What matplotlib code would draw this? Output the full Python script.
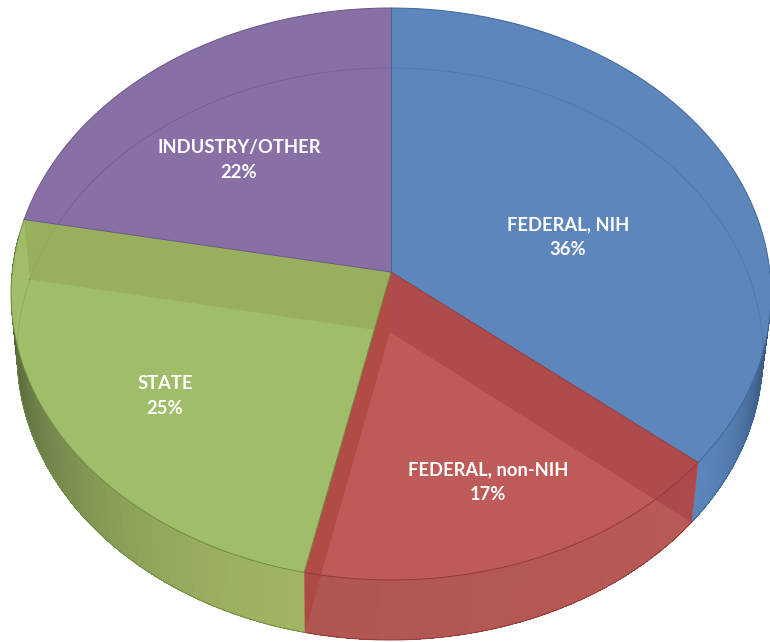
import matplotlib
matplotlib.use('Agg')
import matplotlib.pyplot as plt
from matplotlib.colors import to_rgb
from matplotlib.patches import Polygon
import numpy as np

labels = ['FEDERAL, NIH', 'FEDERAL, non-NIH', 'STATE', 'INDUSTRY/OTHER']
shares = [36, 17.4, 24.6, 22]

face_colors = ['#5C86BC', '#BE5B58', '#A0BE69', '#8870A6']
edge_colors = ['#3F6796', '#943A3A', '#6F8C42', '#6A5587']
side_light = ['#5A86BC', '#B95A57', '#A0B463', '#8870A6']
side_dark = ['#1A2C44', '#B05650', '#36452A', '#8870A6']

label_x = [568, 488, 165, 239]
label_y = [237, 482, 396, 160]

# pie disc in picture pixels, top and bottom face
top = dict(cx=391, cy=294, rx=380, ry=286)
bottom = dict(cx=390, cy=354, rx=373, ry=286)
tilt = 0.077


def project(disc, frac):
    # frac is the share of the full circle, clockwise from 12 o'clock
    a = 2 * np.pi * np.asarray(frac, dtype=float)
    x, y = np.sin(a), -np.cos(a)
    d = 1 - tilt * y
    xp = x * np.sqrt(1 - tilt ** 2) / d
    yp = (y - tilt) / d
    return np.column_stack([disc['cx'] + disc['rx'] * xp, disc['cy'] + disc['ry'] * yp])


def arc(disc, f0, f1, n=200):
    return project(disc, np.linspace(f0, f1, n))


def centre(disc):
    return np.array([[disc['cx'], disc['cy'] - disc['ry'] * tilt]])


def mix(c0, c1, t):
    return np.array(to_rgb(c0)) * (1 - t) + np.array(to_rgb(c1)) * t


fig = plt.figure(figsize=(7.7, 6.42), dpi=100)
ax = fig.add_axes([0, 0, 1, 1])
ax.set_xlim(0, 770)
ax.set_ylim(642, 0)
ax.axis('off')

edges = np.cumsum([0] + shares) / sum(shares)

# outer side of the pie, only the front part shows
for i in range(3):
    f0, f1 = edges[i], edges[i + 1]
    if i == 0:
        f0 = 0.25
    if i == 2:
        f1 = 0.77
    steps = np.linspace(f0, f1, 60)
    for j in range(59):
        if i == 0:
            t = (1 - j / 58) ** 1.5
        elif i == 2:
            t = (j / 58) ** 1.6
        else:
            t = j / 58
        quad = np.vstack([arc(top, steps[j], steps[j + 1], 4), arc(bottom, steps[j + 1], steps[j], 4)])
        ax.add_patch(Polygon(quad, fc=mix(side_light[i], side_dark[i], t), ec='none', aa=False, zorder=1))
    ax.plot(*arc(bottom, f0, f1).T, color=edge_colors[i], lw=0.7, zorder=2)

# top faces
faces = []
for i in range(4):
    pts = np.vstack([centre(top), arc(top, edges[i], edges[i + 1])])
    faces.append(ax.add_patch(Polygon(pts, fc=face_colors[i], ec='none', zorder=3)))

rim = Polygon(arc(top, 0, 1, 400), fc='none', ec='none', zorder=3)
ax.add_patch(rim)

# ring of the bottom face seen through the top
ring_colors = {0: '#5079B2', 2: '#8DAC5C', 3: '#75609A'}
for i in [0, 2, 3]:
    ln, = ax.plot(*arc(bottom, edges[i], edges[i + 1]).T, color=ring_colors[i], lw=0.7, zorder=4)
    ln.set_clip_path(rim)

# inner walls seen through the top
cut_green = np.vstack([centre(top), arc(top, edges[3], edges[3], 1), arc(bottom, edges[3], edges[3], 1), centre(bottom)])
wall = ax.add_patch(Polygon(cut_green, fc='#98AE5C', ec='none', alpha=0.9, zorder=4))
wall.set_clip_path(faces[2])
cut_red_right = np.vstack([centre(top), arc(top, edges[1], edges[1], 1), arc(bottom, edges[1], edges[1], 1), centre(bottom)])
ax.add_patch(Polygon(cut_red_right, fc='#A03C44', ec='none', alpha=0.5, zorder=4))
cut_red_left = np.vstack([centre(top), arc(top, edges[2], edges[2], 1), arc(bottom, edges[2], edges[2], 1), centre(bottom)])
ax.add_patch(Polygon(cut_red_left, fc='#AD4741', ec='none', alpha=0.8, zorder=4))

# slice borders on the top face
for i in range(4):
    pts = np.vstack([centre(top), arc(top, edges[i], edges[i], 1)])
    ax.plot(*pts.T, color=edge_colors[i], lw=0.7, zorder=5)
    ax.plot(*arc(top, edges[i], edges[i + 1]).T, color=edge_colors[i], lw=0.7, zorder=5)

for name, share, x, y in zip(labels, shares, label_x, label_y):
    ax.text(x, y, f'{name}\n{share:.0f}%', color='white', ha='center', va='center',
            fontsize=13.2, fontweight='bold', family='Lato', linespacing=1.6, zorder=6)

fig.savefig('out.png', dpi=100)
